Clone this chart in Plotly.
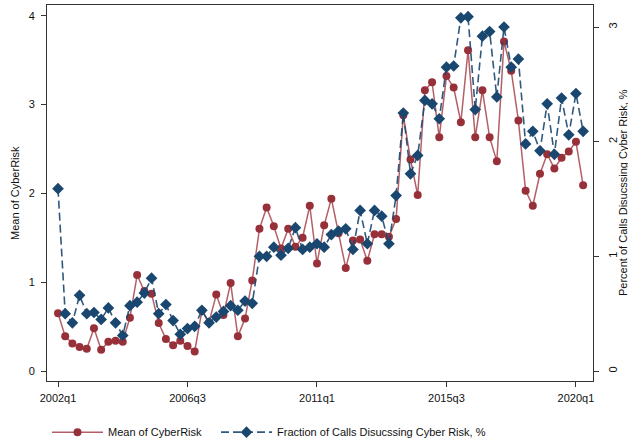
import plotly.graph_objects as go

# Quarterly series, 2002q1 .. 2020q2 (quarter index 0 = 2002q1)
quarter_idx = list(range(74))

mean_cyberrisk = [
    0.65, 0.39, 0.31, 0.27, 0.25, 0.48, 0.24, 0.33, 0.34, 0.33,
    0.60, 1.08, 0.90, 0.87, 0.54, 0.36, 0.29, 0.34, 0.28, 0.22,
    0.68, 0.55, 0.86, 0.63, 0.99, 0.39, 0.59, 1.02, 1.60, 1.84,
    1.63, 1.38, 1.60, 1.40, 1.50, 1.86, 1.21, 1.64, 1.94, 1.55,
    1.16, 1.47, 1.48, 1.24, 1.54, 1.54, 1.51, 1.71, 2.88, 2.38,
    1.98, 3.16, 3.25, 2.63, 3.32, 3.19, 2.80, 3.61, 2.63, 3.16,
    2.63, 2.36, 3.71, 3.38, 2.82, 2.03, 1.86, 2.22, 2.44, 2.28,
    2.40, 2.47, 2.58, 2.09,
]

pct_calls_cyber = [
    1.59, 0.50, 0.42, 0.66, 0.50, 0.51, 0.45, 0.55, 0.42, 0.31,
    0.57, 0.60, 0.68, 0.81, 0.50, 0.58, 0.44, 0.32, 0.37, 0.39,
    0.53, 0.42, 0.47, 0.52, 0.57, 0.53, 0.61, 0.59, 1.00, 1.00,
    1.08, 1.01, 1.07, 1.25, 1.06, 1.08, 1.11, 1.08, 1.19, 1.22,
    1.24, 1.06, 1.40, 1.11, 1.40, 1.35, 1.11, 1.53, 2.25, 1.72,
    1.88, 2.36, 2.33, 2.20, 2.65, 2.66, 3.08, 3.09, 2.28, 2.92,
    2.96, 2.39, 3.00, 2.65, 2.72, 1.98, 2.09, 1.92, 2.33, 1.89,
    2.38, 2.06, 2.42, 2.09,
]

tick_quarters = [0, 18, 36, 54, 72]
tick_labels = ["2002q1", "2006q3", "2011q1", "2015q3", "2020q1"]

RED = "#98303A"
RED_LINE = "rgba(160, 55, 65, 0.8)"
NAVY = "#1A476F"
NAVY_LINE = "rgba(26, 71, 111, 0.9)"
FONT = "Liberation Sans, Arial, sans-serif"
AXIS_COL = "#333333"

fig = go.Figure()

fig.add_trace(go.Scatter(
    x=quarter_idx, y=mean_cyberrisk, name="Mean of CyberRisk",
    mode="lines+markers",
    line=dict(color=RED_LINE, width=1.5),
    marker=dict(symbol="circle", size=8, color=RED),
    yaxis="y", legend="legend",
))

fig.add_trace(go.Scatter(
    x=quarter_idx, y=pct_calls_cyber,
    name="Fraction of Calls Disucssing Cyber Risk, %",
    mode="lines+markers",
    line=dict(color=NAVY_LINE, width=1.6, dash="8px,4px"),
    marker=dict(symbol="diamond", size=9, color=NAVY),
    yaxis="y2", legend="legend2",
))

legend_style = dict(
    orientation="h", y=-0.136, xanchor="left", yanchor="middle",
    font=dict(size=11), itemwidth=51, bgcolor="rgba(0,0,0,0)",
)

fig.update_layout(
    width=628, height=443,
    margin=dict(l=47, r=35, t=5, b=62, autoexpand=False),
    paper_bgcolor="white", plot_bgcolor="white",
    font=dict(family=FONT, size=11, color="#111111"),
    showlegend=True,
    legend=dict(x=0.0, **legend_style),
    legend2=dict(x=(216 - 47) / 546, **legend_style),
    xaxis=dict(
        range=[-1.53, 74.37], tickvals=tick_quarters, ticktext=tick_labels,
        showgrid=False, zeroline=False, automargin=False,
        showline=True, linecolor=AXIS_COL, linewidth=1, mirror=True,
        ticks="outside", ticklen=5, tickcolor=AXIS_COL,
        ticklabelstandoff=2,
    ),
    yaxis=dict(
        range=[-0.1126, 4.12], tickvals=[0, 1, 2, 3, 4],
        showgrid=False, zeroline=False, automargin=False,
        showline=True, linecolor=AXIS_COL, linewidth=1,
        ticks="outside", ticklen=5, tickcolor=AXIS_COL,
        ticklabelstandoff=4,
    ),
    yaxis2=dict(
        range=[-0.0872, 3.192], tickvals=[0, 1, 2, 3],
        overlaying="y", side="right", anchor="x",
        showgrid=False, zeroline=False, automargin=False,
        showline=True, linecolor=AXIS_COL, linewidth=1,
        ticks="outside", ticklen=5, tickcolor=AXIS_COL, tickangle=-90,
        ticklabelstandoff=5,
    ),
    annotations=[
        dict(text="Mean of CyberRisk", textangle=-90, showarrow=False,
             xref="paper", yref="paper", x=(7 - 47) / 546, y=0.5,
             xanchor="left", yanchor="middle", font=dict(size=11)),
        dict(text="Percent of Calls Disucssing Cyber Risk, %", textangle=-90,
             showarrow=False, xref="paper", yref="paper",
             x=(615 - 47) / 546, y=0.5, xanchor="left", yanchor="middle",
             font=dict(size=11)),
    ],
)

fig.write_html("out.html")
